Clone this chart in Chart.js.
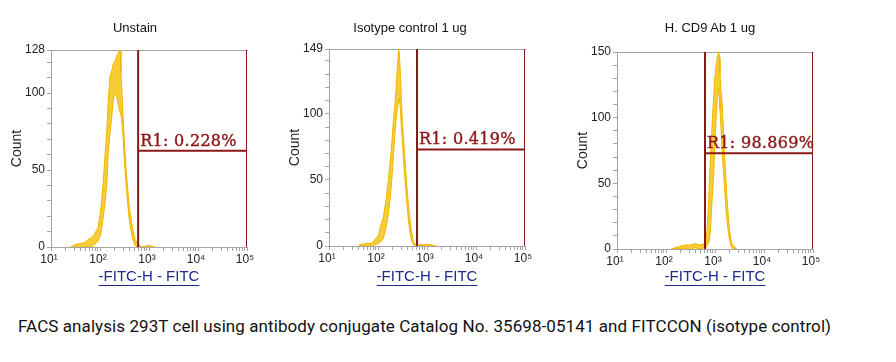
<!DOCTYPE html>
<html>
<head>
<meta charset="utf-8">
<script src="https://cdn.jsdelivr.net/npm/chart.js@4.4.0/dist/chart.umd.min.js"></script>
<style>
  body { margin: 0; background: #fff; width: 896px; height: 362px; position: relative; overflow: hidden; }
  canvas { position: absolute; top: 0; }
  .ptitle { position: absolute; top: 20px; width: 300px; text-align: center; font: 13px "Liberation Sans", Arial, sans-serif; line-height: 15px; color: #111; }
  #caption { position: absolute; left: 18px; top: 316px; font: 17px Roboto, sans-serif; letter-spacing: 0.08px; color: #111; white-space: nowrap; }
</style>
</head>
<body>
<canvas id="c1" width="269" height="295" style="left:0px"></canvas>
<canvas id="c2" width="264" height="295" style="left:278px"></canvas>
<canvas id="c3" width="288" height="295" style="left:566px"></canvas>
<div class="ptitle" id="t1" style="left:-15px"></div>
<div class="ptitle" id="t2" style="left:260px"></div>
<div class="ptitle" id="t3" style="left:560px"></div>
<div id="caption">FACS analysis 293T cell using antibody conjugate Catalog No. 35698-05141 and FITCCON (isotype control)</div>
<script>
// panel titles and gate labels
const titles = ['Unstain', 'Isotype control 1 ug', 'H. CD9 Ab 1 ug'];
const gateTexts = ['R1: 0.228%', 'R1: 0.419%', 'R1: 98.869%'];
const gateLow = [600, 625, 625];      // left edge of R1 (FITC units)
const gateHigh = 100000;
const gateLevel = [62.5, 73, 73];     // count where the R1 bar sits
const yMaxes = [128, 149, 150];
const xDecades = [10, 100, 1000, 10000, 100000];
const xAxisLabel = '-FITC-H - FITC';
const yAxisLabel = 'Count';

// Unstain histogram (upper and lower edge of the noisy trace)
const unstainX = [25, 34, 39, 49, 58, 68, 79, 92, 105, 117, 126, 137, 148, 160, 173, 187, 202, 219, 237, 256, 268, 290, 314, 345, 397, 457, 518, 587, 708, 1000, 1300];
const unstainHi = [0, 2, 2, 3, 5, 6, 9, 13, 26, 43, 59, 74, 96, 111, 114, 119, 121, 124, 126, 128, 113, 91, 69, 48, 26, 13, 5, 2, 0, 1, 0];
const unstainLo = [0, 0, 0, 0, 0, 0, 2, 4, 9, 20, 28, 40, 62, 74, 84, 96, 100, 98, 92, 88, 86, 76, 56, 38, 17, 6, 1, 0, 0, 0, 0];

// Isotype control
const isoX = [40, 43, 59, 74, 87, 102, 113, 129, 146, 163, 182, 193, 206, 219, 233, 248, 264, 272, 286, 299, 314, 329, 356, 385, 416, 450, 486, 526, 597, 700, 1200, 1500];
const isoHi = [0, 1, 2, 2, 5, 8, 15, 22, 35, 50, 68, 80, 95, 105, 118, 136, 149, 146, 131, 113, 95, 83, 65, 47, 32, 20, 10, 3, 1, 1, 1, 0];
const isoLo = [0, 0, 0, 0, 1, 2, 3, 6, 14, 24, 40, 52, 68, 82, 95, 104, 110, 112, 104, 90, 80, 68, 50, 34, 20, 10, 4, 1, 0, 0, 0, 0];

// H. CD9 Ab
const cd9X = [130, 150, 193, 244, 309, 391, 494, 597, 655, 697, 731, 766, 803, 855, 896, 939, 985, 1048, 1116, 1188, 1225, 1264, 1325, 1412, 1479, 1550, 1651, 1730, 1871, 2024, 2188, 2443, 2768];
const cd9Hi = [0, 1, 2, 3, 3, 4, 3, 4, 6, 17, 32, 50, 68, 88, 103, 116, 129, 139, 146, 150, 146, 134, 121, 108, 93, 75, 58, 42, 25, 12, 4, 2, 0];
const cd9Lo = [0, 0, 0, 0, 0, 1, 0, 1, 1, 3, 4, 7, 12, 32, 45, 56, 78, 98, 114, 122, 116, 106, 92, 72, 60, 50, 34, 24, 13, 5, 1, 0, 0];

const gateColor = 'rgb(139,24,24)';
const axisColor = '#a4a4a4';
const traceColor = 'rgb(240,182,0)';
const traceFill = 'rgba(246,196,20,0.85)';
const sup = { 1: '¹', 2: '²', 3: '³', 4: '⁴', 5: '⁵' };

// layout per panel: padding so the plot boxes land where the original has them
const padTop = [50, 49, 52];
const padRight = [22, 17, 41];
const xAxisHeights = [48, 49, 46];

const gateLabelPlugin = {
    id: 'gateLabel',
    afterDatasetsDraw(chart, args, opts) {
        const ctx = chart.ctx;
        const x = chart.scales.x.getPixelForValue(opts.x) + 2;
        const y = chart.scales.y.getPixelForValue(opts.y) - 5;
        ctx.save();
        ctx.font = '16px "DejaVu Serif"';
        ctx.letterSpacing = '0.3px';
        ctx.fillStyle = gateColor;
        ctx.strokeStyle = gateColor;
        ctx.lineWidth = 0.4;
        ctx.textBaseline = 'alphabetic';
        ctx.fillText(opts.text, x, y);
        ctx.strokeText(opts.text, x, y);
        ctx.restore();
    }
};

// underline the x axis title like the original hyperlink style
const underlinePlugin = {
    id: 'underlineTitle',
    afterDraw(chart) {
        const sc = chart.scales.x;
        const t = sc.options.title;
        const font = Chart.helpers.toFont(t.font);
        const ctx = chart.ctx;
        ctx.save();
        ctx.font = font.string;
        const w = ctx.measureText(t.text).width;
        const mid = sc.bottom - t.padding.bottom - font.lineHeight / 2;
        const cx = (chart.chartArea.left + chart.chartArea.right) / 2;
        const y = Math.round(mid + font.size * 0.55) + 0.5;
        ctx.strokeStyle = t.color;
        ctx.lineWidth = 1;
        ctx.beginPath();
        ctx.moveTo(cx - w / 2, y);
        ctx.lineTo(cx + w / 2, y);
        ctx.stroke();
        ctx.restore();
    }
};

function pts(xs, ys) {
    return xs.map((x, i) => ({ x: x, y: ys[i] }));
}

function makeChart(i, xs, hi, lo) {
    document.getElementById('t' + (i + 1)).textContent = titles[i];

    const yMax = yMaxes[i];
    const yTicks = [];
    for (let v = 0; v < yMax; v += 10) yTicks.push(v);
    yTicks.push(yMax);
    const yLabelled = [0, 50, 100, yMax];

    const xTicks = [];
    xDecades.forEach((d, k) => {
        xTicks.push(d);
        if (k < xDecades.length - 1) for (let m = 2; m <= 9; m++) xTicks.push(d * m);
    });

    const gate = [
        { x: gateLow[i], y: 0 }, { x: gateLow[i], y: yMax }, { x: gateLow[i], y: gateLevel[i] },
        { x: gateHigh, y: gateLevel[i] }, { x: gateHigh, y: yMax }, { x: gateHigh, y: 0 }
    ];

    const tickFont = { family: 'Liberation Sans', size: 12 };

    return new Chart(document.getElementById('c' + (i + 1)), {
        type: 'line',
        data: {
            datasets: [
                { data: gate, borderColor: gateColor, borderWidth: 2, pointRadius: 0, fill: false },
                { data: pts(xs, lo), borderColor: traceColor, borderWidth: 1, pointRadius: 0, fill: false },
                { data: pts(xs, hi), borderColor: traceColor, borderWidth: 1, pointRadius: 0, fill: '-1', backgroundColor: traceFill }
            ]
        },
        options: {
            responsive: false,
            animation: false,
            layout: { padding: { top: padTop[i], right: padRight[i], left: 0, bottom: 0 } },
            plugins: {
                legend: { display: false },
                tooltip: { enabled: false },
                gateLabel: { text: gateTexts[i], x: gateLow[i], y: gateLevel[i] }
            },
            scales: {
                x: {
                    type: 'logarithmic',
                    min: 10,
                    max: 100000,
                    position: 'bottom',
                    border: { color: axisColor },
                    grid: { drawOnChartArea: false, tickLength: 4, color: axisColor },
                    afterBuildTicks: s => { s.ticks = xTicks.map(v => ({ value: v })); },
                    afterFit: s => { s.height = xAxisHeights[i]; },
                    ticks: {
                        autoSkip: false,
                        maxRotation: 0,
                        padding: 1,
                        labelOffset: -2,
                        color: '#222',
                        font: tickFont,
                        callback: v => {
                            const e = Math.round(Math.log10(v));
                            return Math.abs(Math.log10(v) - e) < 1e-9 ? '10' + sup[e] : '';
                        }
                    },
                    title: {
                        display: true,
                        text: xAxisLabel,
                        color: '#1e2a8c',
                        font: { family: 'Liberation Sans', size: 15 },
                        padding: { top: 0, bottom: 9 }
                    }
                },
                xTop: {
                    axis: 'x',
                    type: 'linear',
                    position: 'top',
                    border: { color: axisColor },
                    grid: { display: false, drawTicks: false },
                    ticks: { display: false },
                    afterFit: s => { s.height = 0; }
                },
                y: {
                    type: 'linear',
                    min: 0,
                    max: yMax,
                    border: { color: axisColor },
                    grid: { drawOnChartArea: false, tickLength: 4, color: axisColor },
                    afterBuildTicks: s => { s.ticks = yTicks.map(v => ({ value: v })); },
                    afterFit: s => { s.width = 51; },
                    ticks: {
                        autoSkip: false,
                        padding: 2,
                        color: '#222',
                        font: tickFont,
                        callback: v => yLabelled.includes(v) ? String(v) : ''
                    },
                    title: {
                        display: true,
                        text: yAxisLabel,
                        color: '#222',
                        font: { family: 'Liberation Sans', size: 14 },
                        padding: { top: 9, bottom: 0 }
                    }
                }
            }
        },
        plugins: [gateLabelPlugin, underlinePlugin]
    });
}

makeChart(0, unstainX, unstainHi, unstainLo);
makeChart(1, isoX, isoHi, isoLo);
makeChart(2, cd9X, cd9Hi, cd9Lo);
</script>
</body>
</html>
